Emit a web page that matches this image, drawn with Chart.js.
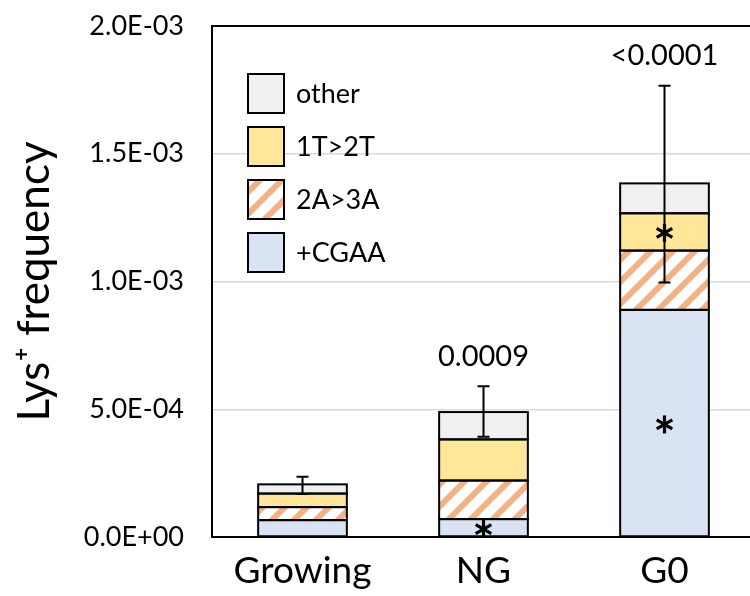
<!DOCTYPE html>
<html>
<head>
<meta charset="utf-8">
<script src="https://cdn.jsdelivr.net/npm/chart.js@4/dist/chart.umd.min.js"></script>
<style>
html,body{margin:0;padding:0;background:#fff;overflow:hidden;}
canvas{display:block;}
</style>
</head>
<body>
<canvas id="c" width="755" height="596"></canvas>
<script>
const categories = ['Growing', 'NG', 'G0'];
const cgaa  = [6.6e-5, 7.0e-5, 8.89e-4];
const a2a3  = [5.1e-5, 1.51e-4, 2.32e-4];
const t1t2  = [5.3e-5, 1.61e-4, 1.46e-4];
const other = [3.6e-5, 1.07e-4, 1.17e-4];
const errUpper = [2.36e-4, 5.9e-4, 1.766e-3];
const errLower = [1.68e-4, 3.92e-4, 9.96e-4];
const pLabels = ['', '0.0009', '<0.0001'];
const starCGAA = [false, true, true];
const starT1T2 = [false, false, true];
const yTicks = [0, 5e-4, 1e-3, 1.5e-3, 2e-3];
const seriesNames = ['+CGAA', '2A>3A', '1T>2T', 'other'];

const FONT = 'Lato, "Open Sans", "DejaVu Sans", sans-serif';

function makeHatch() {
  const P = 22;
  const c = document.createElement('canvas');
  c.width = P; c.height = P;
  const g = c.getContext('2d');
  g.fillStyle = '#ffffff';
  g.fillRect(0, 0, P, P);
  g.strokeStyle = '#F4B183';
  g.lineWidth = 6;
  for (const k of [0, P, 2 * P]) {
    g.beginPath();
    g.moveTo(k - P - 4, P + 4);
    g.lineTo(k + 4, -4);
    g.stroke();
  }
  return g.createPattern(c, 'repeat');
}
const hatch = makeHatch();
const fills = ['#DAE3F3', hatch, '#FFE699', '#F0F0F0'];

function fmt(v) {
  let s = Number(v).toExponential(1).toUpperCase();
  return s.replace(/E([+-])(\d)$/, 'E$10$2');
}

function drawStar(ctx, x, y) {
  const r = 9;
  ctx.save();
  ctx.lineWidth = 3.2;
  ctx.lineCap = 'butt';
  ctx.strokeStyle = '#000';
  for (const a of [90, 30, 150]) {
    const t = a * Math.PI / 180;
    ctx.beginPath();
    ctx.moveTo(x - r * Math.cos(t), y - r * Math.sin(t));
    ctx.lineTo(x + r * Math.cos(t), y + r * Math.sin(t));
    ctx.stroke();
  }
  ctx.restore();
}

const overlay = {
  id: 'overlay',
  afterDatasetsDraw(chart) {
    const ctx = chart.ctx;
    const y = chart.scales.y;
    ctx.save();
    // bar outlines (single shared lines)
    ctx.strokeStyle = '#000';
    ctx.lineWidth = 2;
    chart.data.datasets.forEach((ds, di) => {
      chart.getDatasetMeta(di).data.forEach(b => {
        const p = b.getProps(['x', 'y', 'base', 'width'], true);
        ctx.strokeRect(p.x - p.width / 2, Math.min(p.y, p.base), p.width, Math.abs(p.base - p.y));
      });
    });
    const xs = chart.getDatasetMeta(0).data.map(b => b.x);
    // asterisks
    for (let i = 0; i < categories.length; i++) {
      if (starCGAA[i]) {
        const top = y.getPixelForValue(cgaa[i]);
        const bot = y.getPixelForValue(0);
        drawStar(ctx, xs[i], (top + bot) / 2 + 1);
      }
      if (starT1T2[i]) {
        const b0 = cgaa[i] + a2a3[i];
        const top = y.getPixelForValue(b0 + t1t2[i]);
        const bot = y.getPixelForValue(b0);
        drawStar(ctx, xs[i], (top + bot) / 2 + 1);
      }
    }
    // error bars
    ctx.strokeStyle = '#000';
    ctx.fillStyle = '#000';
    ctx.textAlign = 'center';
    for (let i = 0; i < categories.length; i++) {
      const yu = y.getPixelForValue(errUpper[i]);
      const yl = y.getPixelForValue(errLower[i]);
      ctx.lineWidth = 2;
      ctx.beginPath();
      ctx.moveTo(xs[i], yu); ctx.lineTo(xs[i], yl);
      ctx.moveTo(xs[i] - 6, yu); ctx.lineTo(xs[i] + 6, yu);
      ctx.moveTo(xs[i] - 6, yl); ctx.lineTo(xs[i] + 6, yl);
      ctx.stroke();
      if (pLabels[i]) {
        ctx.font = '29px ' + FONT;
        ctx.textBaseline = 'middle';
        ctx.fillText(pLabels[i], xs[i], yu - 30);
      }
    }
    // top border
    ctx.lineWidth = 2;
    ctx.beginPath();
    ctx.moveTo(chart.chartArea.left - 1, chart.chartArea.top);
    ctx.lineTo(chart.chartArea.right, chart.chartArea.top);
    ctx.stroke();
    // legend
    const order = [3, 2, 1, 0];
    const lx = 248, ly0 = 74, step = 53, bw = 36, bh = 39;
    ctx.font = '27px ' + FONT;
    ctx.textAlign = 'left';
    ctx.textBaseline = 'middle';
    order.forEach((d, k) => {
      const ly = ly0 + k * step;
      ctx.fillStyle = fills[d];
      ctx.fillRect(lx, ly, bw, bh);
      ctx.strokeStyle = '#000';
      ctx.lineWidth = 2;
      ctx.strokeRect(lx, ly, bw, bh);
      ctx.fillStyle = '#000';
      ctx.fillText(seriesNames[d], lx + bw + 12, ly + bh / 2 + 1);
    });
    ctx.restore();
  }
};

const series = [cgaa, a2a3, t1t2, other];
new Chart(document.getElementById('c'), {
  type: 'bar',
  data: {
    labels: categories,
    datasets: series.map((d, i) => ({
      label: seriesNames[i],
      data: d,
      backgroundColor: fills[i],
      borderWidth: 0,
      inflateAmount: 0,
      barPercentage: 0.49,
      categoryPercentage: 1.0
    }))
  },
  options: {
    responsive: false,
    animation: false,
    devicePixelRatio: 1,
    layout: { padding: { top: 26, right: 0, left: 0, bottom: 0 } },
    plugins: { legend: { display: false }, tooltip: { enabled: false } },
    scales: {
      x: {
        stacked: true,
        grid: { display: false },
        border: { display: true, color: '#000', width: 2 },
        ticks: { color: '#000', font: { family: FONT, size: 37 }, padding: 4 },
        afterFit(s) { s.height = 59; s.paddingLeft = 0; s.paddingRight = 0; }
      },
      y: {
        stacked: true,
        min: 0, max: 2e-3,
        afterBuildTicks(s) { s.ticks = yTicks.map(v => ({ value: v })); },
        grid: {
          color: c => (c.tick && c.tick.value >= 2e-3) ? 'rgba(0,0,0,0)' : '#D9D9D9',
          lineWidth: 1.5,
          drawTicks: false
        },
        border: { display: true, color: '#000', width: 2 },
        ticks: {
          color: '#000',
          font: { family: FONT, size: 27 },
          padding: 28,
          callback: v => fmt(v)
        },
        title: {
          display: true,
          text: 'Lys\u207A frequency',
          color: '#000',
          font: { family: FONT, size: 44 },
          padding: { top: 8, bottom: 0 }
        },
        afterFit(s) { s.width = 212; s.paddingTop = 0; s.paddingBottom = 0; }
      }
    }
  },
  plugins: [overlay]
});
</script>
</body>
</html>
